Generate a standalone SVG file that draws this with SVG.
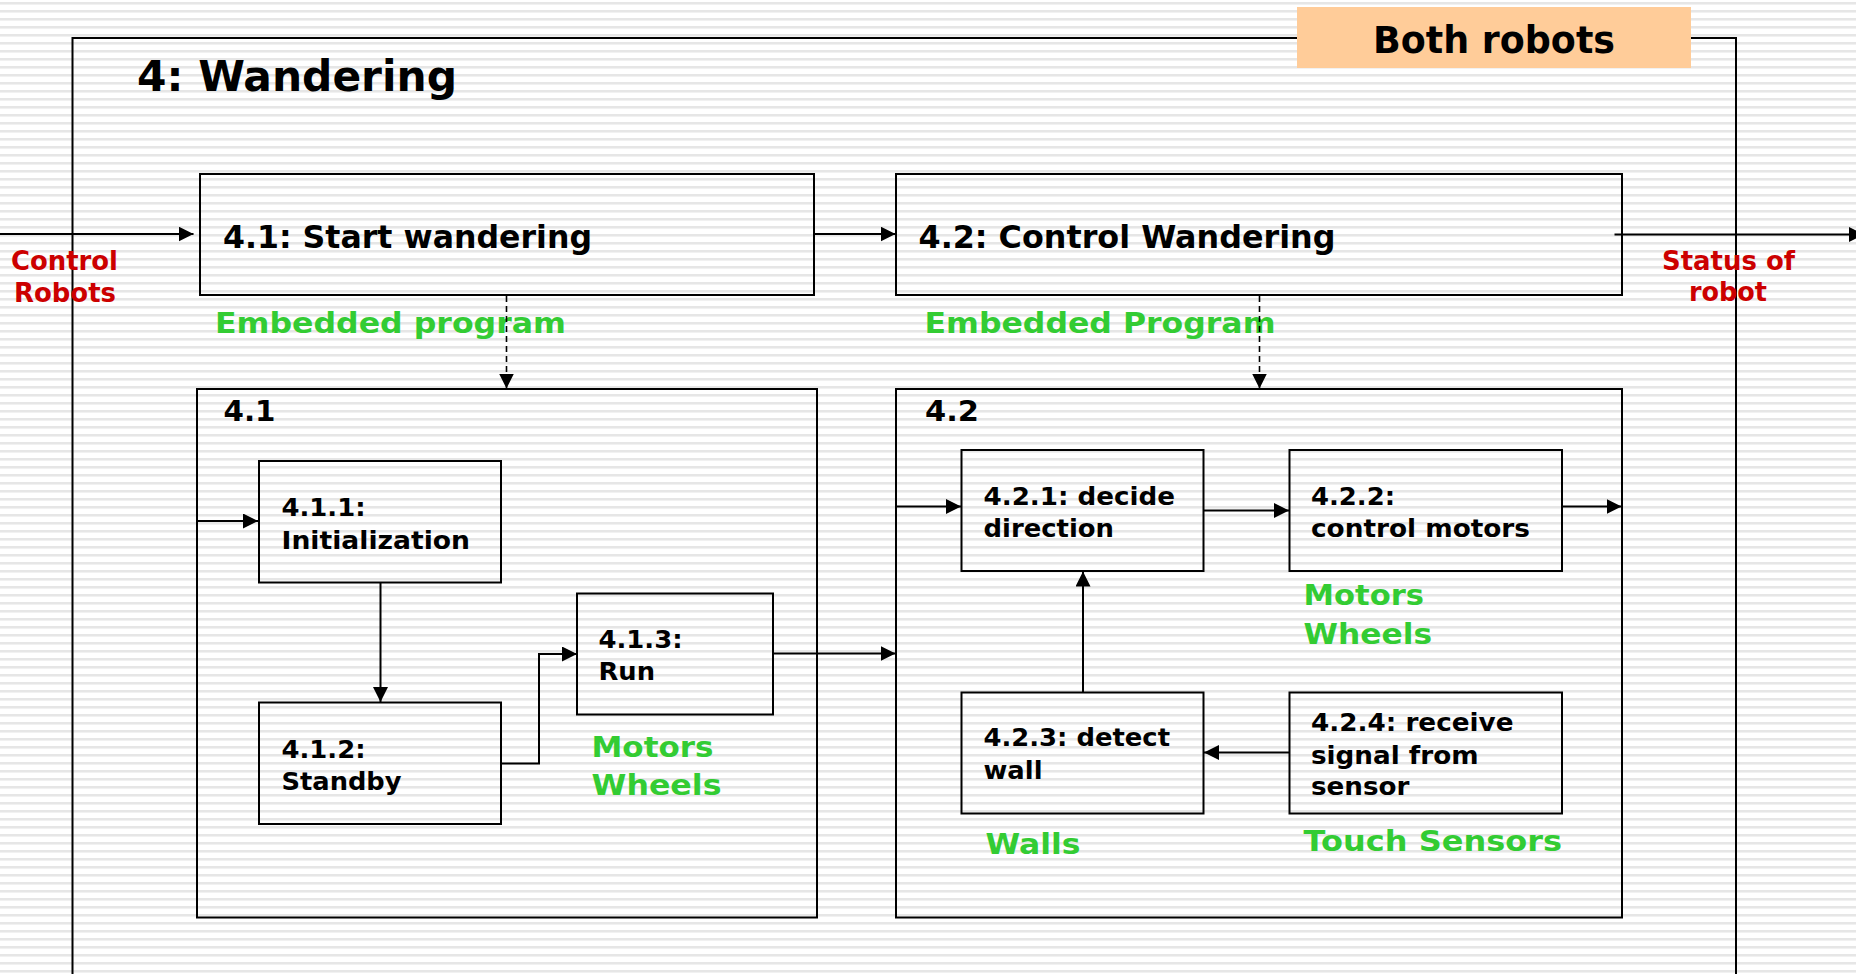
<svg xmlns="http://www.w3.org/2000/svg" width="1856" height="974" viewBox="0 0 1856 974">
<defs>
<pattern id="stripes" x="0" y="0" width="16" height="8" patternUnits="userSpaceOnUse">
<rect width="16" height="8" fill="#ffffff"/>
<rect y="2" width="16" height="2" fill="#e6e6e6"/>
<rect y="4" width="16" height="1" fill="#f1f1f1"/>
</pattern>
<marker id="arr" markerUnits="userSpaceOnUse" markerWidth="16" markerHeight="16" refX="15" refY="7.5" orient="auto">
<path d="M0,0 L15,7.5 L0,15 z" fill="#000"/>
</marker>
<style>
.box{fill:none;stroke:#000;stroke-width:2}
.ln{fill:none;stroke:#000;stroke-width:2;marker-end:url(#arr)}
.dash{fill:none;stroke:#000;stroke-width:1.6;stroke-dasharray:6 4;marker-end:url(#arr)}
text{font-family:"DejaVu Sans",Verdana,"Liberation Sans",sans-serif;font-weight:bold}
.blk{fill:#000}
.red{fill:#CC0000;font-size:26px}
.grn{fill:#33CC33}
.node{font-size:24px}
</style>
</defs>
<rect width="1856" height="974" fill="url(#stripes)"/>

<g id="outer">
<path class="box" d="M72.5,980 L72.5,38 L1736,38 L1736,980"/>
<text class="blk" x="137" y="91" font-size="43" textLength="320" lengthAdjust="spacingAndGlyphs">4: Wandering</text>
</g>

<g id="both-robots">
<rect x="1297" y="7" width="394" height="61" fill="#FFCC99"/>
<text class="blk" x="1373" y="53" font-size="36.5" textLength="242" lengthAdjust="spacingAndGlyphs">Both robots</text>
</g>

<g id="n4-1">
<rect class="box" x="200" y="174" width="614" height="121"/>
<text class="blk" x="223" y="247.5" font-size="32.5" textLength="369" lengthAdjust="spacingAndGlyphs">4.1: Start wandering</text>
<text class="grn" x="215" y="333" font-size="28.5" textLength="351" lengthAdjust="spacingAndGlyphs">Embedded program</text>
</g>

<g id="n4-2">
<rect class="box" x="896" y="174" width="726" height="121"/>
<text class="blk" x="918.5" y="247.5" font-size="32.5" textLength="417" lengthAdjust="spacingAndGlyphs">4.2: Control Wandering</text>
<text class="grn" x="924.5" y="333" font-size="28.5" textLength="351" lengthAdjust="spacingAndGlyphs">Embedded Program</text>
</g>

<g id="in-label">
<text class="red" x="11" y="270" textLength="107" lengthAdjust="spacingAndGlyphs">Control</text>
<text class="red" x="14" y="301.5" textLength="102" lengthAdjust="spacingAndGlyphs">Robots</text>
</g>

<g id="out-label">
<text class="red" x="1662" y="269.5" textLength="133" lengthAdjust="spacingAndGlyphs">Status of</text>
<text class="red" x="1689" y="301" textLength="78" lengthAdjust="spacingAndGlyphs">robot</text>
</g>

<g id="d4-1">
<rect class="box" x="197" y="389" width="620" height="528.5"/>
<text class="blk" x="223.5" y="421" font-size="29" textLength="52" lengthAdjust="spacingAndGlyphs">4.1</text>
</g>

<g id="d4-2">
<rect class="box" x="896" y="389" width="726" height="528.5"/>
<text class="blk" x="925" y="421" font-size="29" textLength="54" lengthAdjust="spacingAndGlyphs">4.2</text>
</g>

<g id="n4-1-1">
<rect class="box" x="259" y="461" width="242" height="121.5"/>
<text class="blk node" x="281.5" y="515.5" textLength="84" lengthAdjust="spacingAndGlyphs">4.1.1:</text>
<text class="blk node" x="281.5" y="548.5" textLength="188.5" lengthAdjust="spacingAndGlyphs">Initialization</text>
</g>

<g id="n4-1-2">
<rect class="box" x="259" y="702.5" width="242" height="121.5"/>
<text class="blk node" x="281.5" y="757.5" textLength="84" lengthAdjust="spacingAndGlyphs">4.1.2:</text>
<text class="blk node" x="281.5" y="790" textLength="120" lengthAdjust="spacingAndGlyphs">Standby</text>
</g>

<g id="n4-1-3">
<rect class="box" x="577" y="593.5" width="196" height="121"/>
<text class="blk node" x="598.5" y="647.5" textLength="84" lengthAdjust="spacingAndGlyphs">4.1.3:</text>
<text class="blk node" x="598.5" y="679.5" textLength="56.5" lengthAdjust="spacingAndGlyphs">Run</text>
<text class="grn" x="591.5" y="756.5" font-size="29" textLength="122" lengthAdjust="spacingAndGlyphs">Motors</text>
<text class="grn" x="591.5" y="795" font-size="29" textLength="130" lengthAdjust="spacingAndGlyphs">Wheels</text>
</g>

<g id="n4-2-1">
<rect class="box" x="961.5" y="450" width="242" height="121"/>
<text class="blk node" x="983.5" y="505" textLength="191.5" lengthAdjust="spacingAndGlyphs">4.2.1: decide</text>
<text class="blk node" x="983.5" y="536.5" textLength="130.5" lengthAdjust="spacingAndGlyphs">direction</text>
</g>

<g id="n4-2-2">
<rect class="box" x="1289.5" y="450" width="272.5" height="121"/>
<text class="blk node" x="1311" y="505" textLength="84" lengthAdjust="spacingAndGlyphs">4.2.2:</text>
<text class="blk node" x="1311" y="536.5" textLength="219" lengthAdjust="spacingAndGlyphs">control motors</text>
<text class="grn" x="1303.5" y="605" font-size="29" textLength="120.5" lengthAdjust="spacingAndGlyphs">Motors</text>
<text class="grn" x="1303.5" y="643.5" font-size="29" textLength="128.5" lengthAdjust="spacingAndGlyphs">Wheels</text>
</g>

<g id="n4-2-3">
<rect class="box" x="961.5" y="692.5" width="242" height="121"/>
<text class="blk node" x="983.5" y="746" textLength="186.5" lengthAdjust="spacingAndGlyphs">4.2.3: detect</text>
<text class="blk node" x="983.5" y="778.5" textLength="59" lengthAdjust="spacingAndGlyphs">wall</text>
<text class="grn" x="985.5" y="854" font-size="29" textLength="95" lengthAdjust="spacingAndGlyphs">Walls</text>
</g>

<g id="n4-2-4">
<rect class="box" x="1289.5" y="692.5" width="272.5" height="121"/>
<text class="blk node" x="1311" y="731" textLength="202.5" lengthAdjust="spacingAndGlyphs">4.2.4: receive</text>
<text class="blk node" x="1311" y="763.5" textLength="167.5" lengthAdjust="spacingAndGlyphs">signal from</text>
<text class="blk node" x="1311" y="795" textLength="98.5" lengthAdjust="spacingAndGlyphs">sensor</text>
<text class="grn" x="1303.5" y="851" font-size="29" textLength="258.5" lengthAdjust="spacingAndGlyphs">Touch Sensors</text>
</g>

<g id="connectors">
<path class="ln" d="M0,234 L193.5,234"/>
<path class="ln" d="M814,234 L895.5,234"/>
<path class="ln" d="M1614.5,234.5 L1864,234.5"/>
<path class="dash" d="M506.5,296 L506.5,388.5"/>
<path class="dash" d="M1259.5,296 L1259.5,388.5"/>
<path class="ln" d="M197,521 L258,521"/>
<path class="ln" d="M380.5,582.5 L380.5,702"/>
<path class="ln" d="M501,763.5 L539,763.5 L539,654 L577,654"/>
<path class="ln" d="M773,653.5 L895.5,653.5"/>
<path class="ln" d="M896,506.5 L961,506.5"/>
<path class="ln" d="M1203.5,510.5 L1289,510.5"/>
<path class="ln" d="M1562,506.5 L1621.5,506.5"/>
<path class="ln" d="M1083,692.5 L1083,571.5"/>
<path class="ln" d="M1289.5,752.5 L1204,752.5"/>
</g>
</svg>
